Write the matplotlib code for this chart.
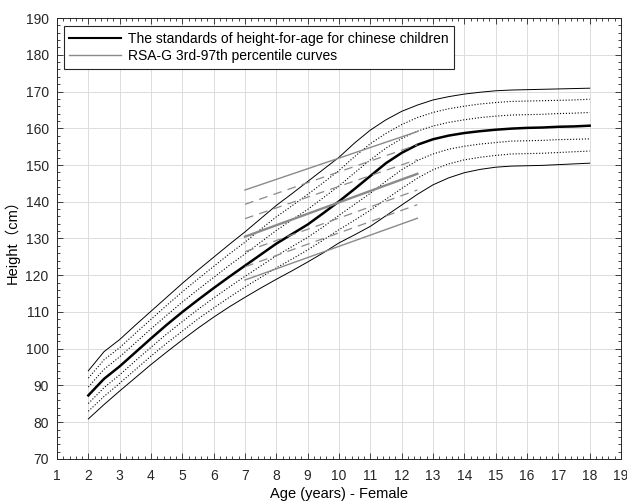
import numpy as np
import matplotlib.pyplot as plt
import matplotlib as mpl
from matplotlib.ticker import MultipleLocator

mpl.rcParams.update({
    "font.family": ["Liberation Sans", "Noto Sans CJK SC"],
    "font.size": 10,
    "axes.edgecolor": "#262626",
    "xtick.color": "#262626",
    "ytick.color": "#262626",
})

# ---- Chinese standards (girls), height-for-age percentiles ----
age = [2.0, 2.5, 3.0, 3.5, 4.0, 4.5, 5.0, 5.5, 6.0, 6.5, 7.0, 7.5, 8.0, 8.5, 9.0,
       9.5, 10.0, 10.5, 11.0, 11.5, 12.0, 12.5, 13.0, 13.5, 14.0, 14.5, 15.0,
       15.5, 16.0, 16.5, 17.0, 17.5, 18.0]
p3 = [80.9, 84.8, 88.5, 92.1, 95.7, 99.1, 102.4, 105.6, 108.6, 111.4, 114.0,
      116.5, 118.9, 121.2, 123.6, 126.1, 128.8, 131.0, 133.3, 136.2, 139.1,
      142.0, 144.6, 146.5, 147.9, 148.8, 149.4, 149.7, 149.8, 149.9, 150.1,
      150.3, 150.5]
p10 = [83.0, 87.0, 90.6, 94.3, 98.0, 101.5, 104.8, 108.1, 111.1, 114.0, 116.8,
       119.4, 122.0, 124.4, 126.9, 129.6, 132.4, 135.0, 137.7, 140.7, 143.6,
       146.4, 148.7, 150.3, 151.4, 152.1, 152.6, 153.0, 153.1, 153.2, 153.4,
       153.6, 153.8]
p25 = [85.1, 89.4, 92.9, 96.7, 100.4, 104.0, 107.4, 110.7, 113.8, 116.8, 119.7,
       122.5, 125.3, 127.8, 130.3, 133.2, 136.3, 139.3, 142.3, 145.6, 148.7,
       151.2, 153.0, 154.3, 155.1, 155.7, 156.1, 156.5, 156.6, 156.7, 156.9,
       157.0, 157.1]
p50 = [87.3, 91.8, 95.2, 99.0, 102.8, 106.5, 110.0, 113.3, 116.5, 119.6, 122.6,
       125.6, 128.6, 131.2, 133.8, 136.9, 140.1, 143.5, 147.0, 150.5, 153.3,
       155.5, 157.0, 158.0, 158.7, 159.2, 159.6, 159.9, 160.1, 160.2, 160.4,
       160.5, 160.7]
p75 = [89.6, 94.4, 97.8, 101.6, 105.4, 109.1, 112.7, 116.1, 119.4, 122.7, 125.8,
       129.0, 132.2, 135.1, 137.9, 141.1, 144.3, 147.9, 151.4, 154.6, 157.2,
       159.2, 160.6, 161.6, 162.3, 162.9, 163.3, 163.6, 163.7, 163.8, 164.0,
       164.1, 164.3]
p90 = [92.0, 97.0, 100.3, 104.2, 108.0, 111.8, 115.5, 119.0, 122.4, 125.8, 129.0,
       132.5, 135.9, 138.9, 142.0, 145.2, 148.5, 152.3, 155.8, 158.6, 161.0,
       162.9, 164.3, 165.3, 166.0, 166.6, 167.0, 167.3, 167.4, 167.5, 167.6,
       167.7, 167.9]
p97 = [94.0, 99.2, 102.5, 106.4, 110.2, 114.0, 117.8, 121.4, 124.9, 128.4, 131.8,
       135.4, 139.0, 142.2, 145.5, 148.8, 152.1, 156.0, 159.5, 162.3, 164.6,
       166.3, 167.7, 168.6, 169.3, 169.8, 170.2, 170.4, 170.5, 170.6, 170.7,
       170.8, 170.9]

# ---- RSA-G straight percentile lines (3rd ... 97th) ----
rsa_age = [7.0, 12.5]
rsa_start = [118.7, 122.3, 126.4, 130.5, 135.4, 139.3, 143.2]
rsa_end = [135.5, 139.2, 143.2, 147.6, 151.5, 155.5, 159.1]

BLACK = "#000000"
GRAY = "#8a8a8a"

fig = plt.figure(figsize=(6.27, 5.03), dpi=100)
ax = fig.add_axes([0.0909, 0.0875, 0.8995, 0.8767])

# chinese standards
ax.plot(age, p3, color=BLACK, lw=0.7)
ax.plot(age, p10, color=BLACK, lw=0.8, ls=":")
ax.plot(age, p25, color=BLACK, lw=0.8, ls=":")
std_line, = ax.plot(age, p50, color=BLACK, lw=1.8)
ax.plot(age, p75, color=BLACK, lw=0.8, ls=":")
ax.plot(age, p90, color=BLACK, lw=0.8, ls=":")
ax.plot(age, p97, color=BLACK, lw=0.7)

# RSA-G lines
for i, (s, e) in enumerate(zip(rsa_start, rsa_end)):
    if i in (0, 6):
        ln, = ax.plot(rsa_age, [s, e], color=GRAY, lw=1.0)
        if i == 0:
            rsa_line = ln
    elif i == 3:
        ax.plot(rsa_age, [s, e], color=GRAY, lw=1.7)
    else:
        ax.plot(rsa_age, [s, e], color=GRAY, lw=0.9, ls=(0, (7, 5)))

ax.set_xlim(1, 19)
ax.set_ylim(70, 190)
ax.xaxis.set_major_locator(MultipleLocator(1))
ax.xaxis.set_minor_locator(MultipleLocator(0.2))
ax.yaxis.set_major_locator(MultipleLocator(10))
ax.yaxis.set_minor_locator(MultipleLocator(2))
ax.tick_params(which="both", direction="in", top=True, right=True, width=0.6)
ax.tick_params(which="major", length=4.5, labelsize=10)
ax.tick_params(axis="x", which="major", pad=7)
ax.tick_params(axis="y", which="major", pad=6)
ax.tick_params(which="minor", length=2.2)
ax.grid(True, which="major", color="#dcdcdc", lw=0.7)
ax.set_axisbelow(True)
for sp in ax.spines.values():
    sp.set_linewidth(0.7)

ax.set_xlabel("Age (years) - Female", fontsize=10.5, labelpad=3)
ax.set_ylabel("Height（cm）", fontsize=10.5, labelpad=4)

leg = ax.legend([std_line, rsa_line],
                ["The standards of height-for-age for chinese children",
                 "RSA-G 3rd-97th percentile curves"],
                loc="upper left", bbox_to_anchor=(0.012, 0.982),
                fancybox=False, framealpha=1, edgecolor="#262626",
                handlelength=3.7, borderpad=0.4, labelspacing=0.25,
                handletextpad=0.5, borderaxespad=0, fontsize=10)
leg.get_frame().set_linewidth(0.8)
leg.get_lines()[0].set_linewidth(1.5)
leg.get_lines()[1].set_linewidth(1.0)

fig.savefig("out.png", dpi=100)
